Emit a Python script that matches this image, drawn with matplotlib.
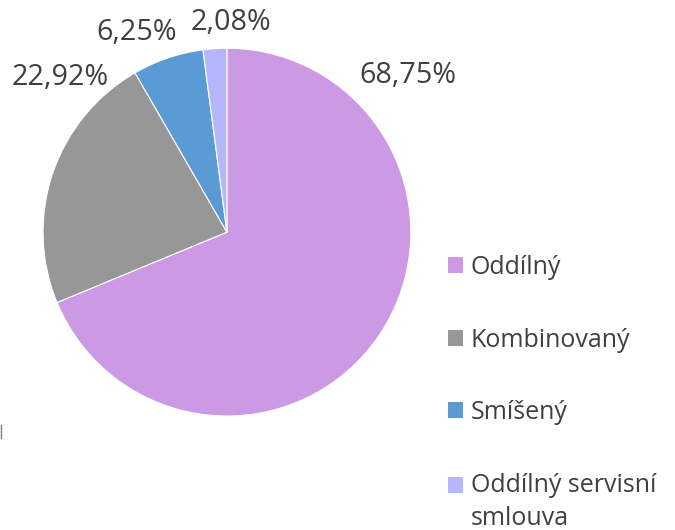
import matplotlib.pyplot as plt
from matplotlib.patches import Patch, Rectangle
from matplotlib.legend_handler import HandlerPatch
from matplotlib.lines import Line2D

categories = ['Oddílný', 'Kombinovaný', 'Smíšený', 'Oddílný servisní\nsmlouva']
values = [68.75, 22.92, 6.25, 2.08]
labels = ['68,75%', '22,92%', '6,25%', '2,08%']
colors = ['#CC9AE4', '#979797', '#5B9BD5', '#B6B6FC']
label_pos = [(0.984, 0.853), (-0.908, 0.842), (-0.489, 1.087), (0.022, 1.141)]

plt.rcParams['font.family'] = ['Open Sans', 'DejaVu Sans']
txt = '#404040'


def square(legend, orig_handle, xdescent, ydescent, width, height, fontsize):
    return Rectangle((-xdescent, -ydescent), width, height)


def square_top(legend, orig_handle, xdescent, ydescent, width, height, fontsize):
    # first line of a two-line label
    return Rectangle((-xdescent, -ydescent + 0.72 * fontsize), width, height)


fig = plt.figure(figsize=(6.75, 5.3), dpi=100)
ax = fig.add_axes([0.0637, 0.215, 0.545, 0.694])
wedges, _ = ax.pie(values, colors=colors, startangle=90, counterclock=False,
                   radius=1, wedgeprops=dict(linewidth=0.8, edgecolor='white'))
ax.set_xlim(-1, 1)
ax.set_ylim(-1, 1)
ax.set_aspect('equal')
ax.axis('off')

for lab, (x, y) in zip(labels, label_pos):
    ax.text(x, y, lab, ha='center', va='center', fontsize=20.7, color=txt, clip_on=False)

handles = [Patch(facecolor=c, edgecolor='none') for c in colors]
hmap = {h: HandlerPatch(patch_func=square) for h in handles[:-1]}
hmap[handles[-1]] = HandlerPatch(patch_func=square_top)
leg = fig.legend(handles, categories, loc='upper left', bbox_to_anchor=(0.63, 0.561),
                 frameon=False, fontsize=18, handlelength=0.62, handleheight=0.62,
                 handletextpad=0.3, labelspacing=1.9, labelcolor=txt, handler_map=hmap)
leg.get_texts()[-1].set_linespacing(1.45)

fig.add_artist(Line2D([0.002, 0.002], [1 - 425 / 530, 1 - 438 / 530], color='#808080', lw=1))

fig.savefig('out.png', dpi=100)
